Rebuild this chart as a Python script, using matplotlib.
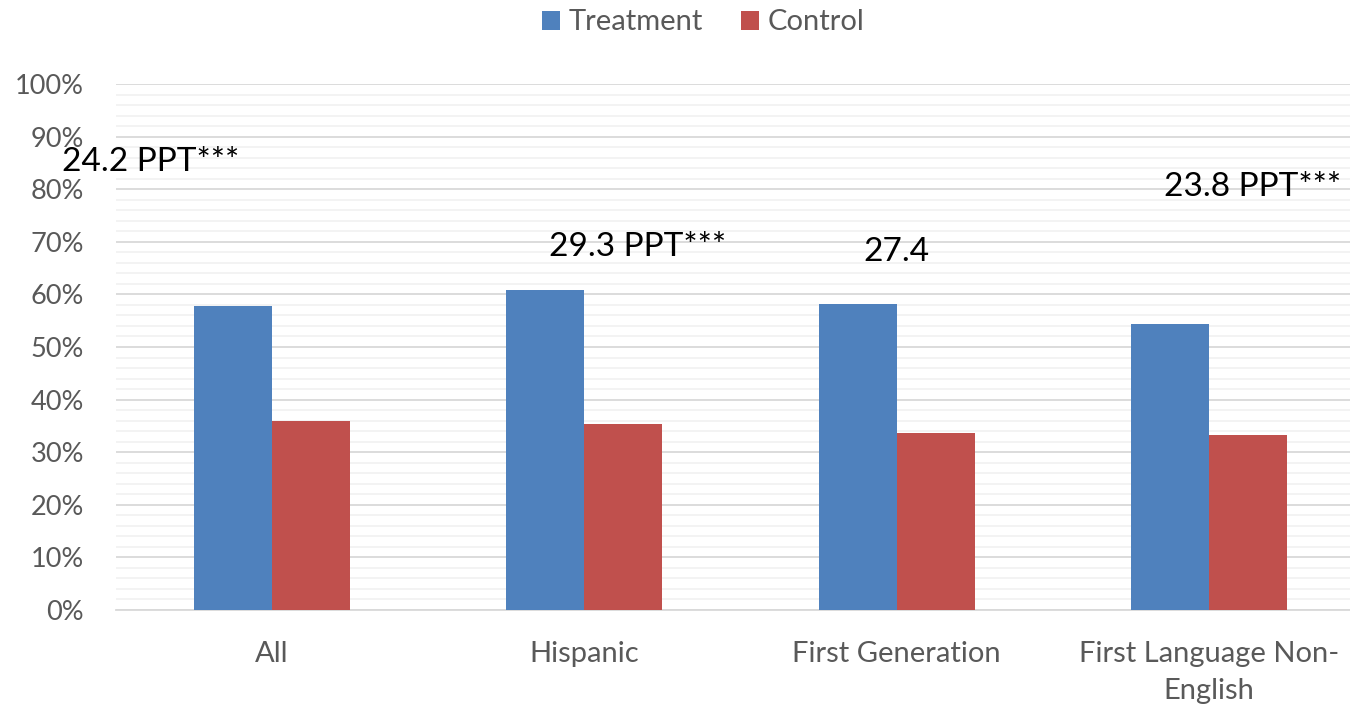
import matplotlib
matplotlib.use("Agg")
import matplotlib.pyplot as plt
import numpy as np

categories = ["All", "Hispanic", "First Generation", "First Language Non-\nEnglish"]
treatment = [57.7, 60.9, 58.2, 54.3]
control = [36.0, 35.3, 33.7, 33.2]
annotations = ["24.2 PPT***", "29.3 PPT***", "27.4", "23.8 PPT***"]
annot_x = [-0.39, 1.17, 2.0, 3.14]
annot_y = [85.2, 69.0, 68.1, 80.4]

plt.rcParams['font.family'] = ['Lato', 'DejaVu Sans']

fig = plt.figure(figsize=(13.5, 7.05), dpi=100)
ax = fig.add_axes([116/1350, 1-610/705, (1365-116)/1350, (610-84)/705])

x = np.arange(len(categories))
w = 0.25
blue = "#4F81BD"
red = "#C0504D"
ax.bar(x - w/2, treatment, w, color=blue, label="Treatment", zorder=3)
ax.bar(x + w/2, control, w, color=red, label="Control", zorder=3)

ax.set_xlim(-0.5, 3.5)
ax.set_ylim(0, 100)
ax.set_yticks(np.arange(0, 101, 10))
ax.set_yticklabels([f"{v}%" for v in range(0, 101, 10)])
ax.set_yticks(np.arange(0, 101, 2), minor=True)
ax.grid(axis='y', which='major', color="#D9D9D9", linewidth=1.3, zorder=0)
ax.grid(axis='y', which='minor', color="#F2F2F2", linewidth=1.3, zorder=0)
ax.set_xticks(x)
ax.set_xticklabels(categories, fontsize=21, color="#595959", linespacing=1.55)
ax.tick_params(axis='y', which='both', length=0, labelsize=19.5, labelcolor="#595959", pad=23)
ax.tick_params(axis='x', length=0, pad=22)
for s in ["top", "right", "left"]:
    ax.spines[s].set_visible(False)
ax.spines["bottom"].set_color("#D9D9D9")
ax.spines["bottom"].set_linewidth(1.3)

for t, xx, yy in zip(annotations, annot_x, annot_y):
    ax.text(xx, yy, t, fontsize=24, color="black", ha="center", va="center", clip_on=False)

leg = fig.legend(loc="upper center", bbox_to_anchor=(0.521, 1.024), ncol=2, frameon=False,
                 fontsize=21, handlelength=0.62, handleheight=0.62, handletextpad=0.3, columnspacing=1.3)
for t in leg.get_texts():
    t.set_color("#595959")

fig.savefig("out.png", dpi=100)
